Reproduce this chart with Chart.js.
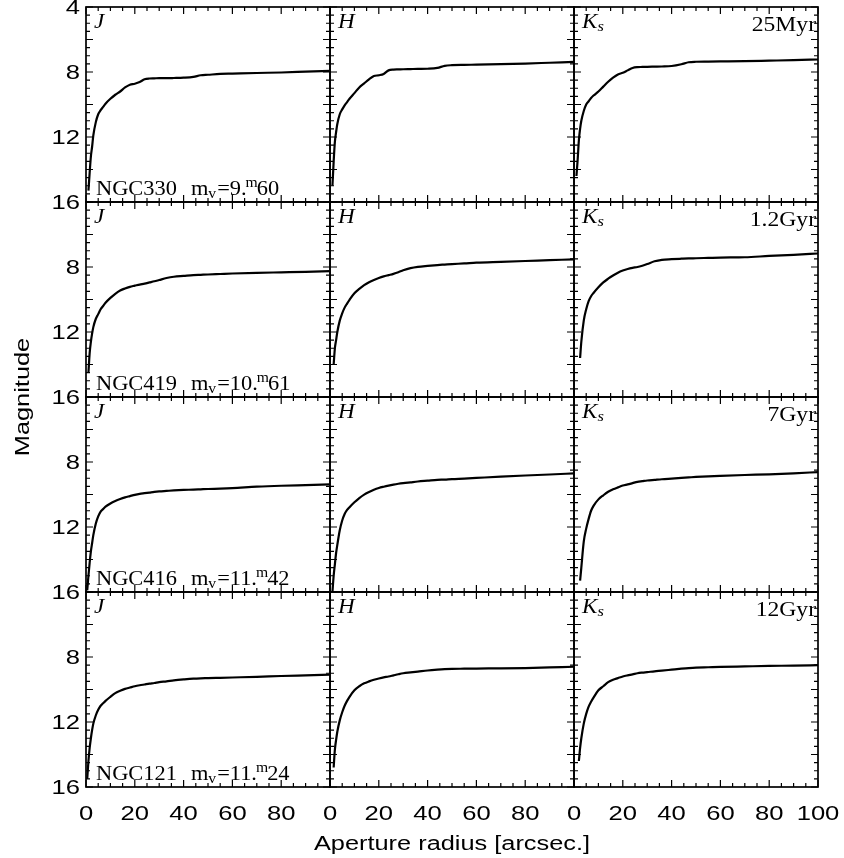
<!DOCTYPE html>
<html>
<head>
<meta charset="utf-8">
<script src="https://cdn.jsdelivr.net/npm/chart.js@4"></script>
<style>
  body { margin: 0; background: #fff; }
  #wrap { position: relative; width: 844px; height: 858px; }
  #wrap canvas { position: absolute; left: 0; top: 0; }
</style>
</head>
<body>
<div id="wrap"></div>
<script>
// aperture radii [arcsec] shared by every curve
const radius = [0.5, 1, 1.5, 2, 2.5, 3, 4, 5, 6, 7, 8, 10, 12, 14, 16, 18, 20, 22, 24, 26, 28, 30, 33, 36, 40, 44, 47, 50, 55, 60, 70, 80, 90, 100];

// growth curves (magnitude inside aperture), null = no data at that radius
const ngc330J = [null, 15.3, 14.2, 13.2, 12.6, 11.9, 11.1, 10.6, 10.35, 10.15, 9.95, 9.65, 9.4, 9.2, 8.95, 8.78, 8.72, 8.62, 8.45, 8.4, 8.39, 8.38, 8.38, 8.37, 8.35, 8.3, 8.2, 8.17, 8.12, 8.1, 8.06, 8.03, 7.98, 7.93];
const ngc330H = [null, 15.0, 13.5, 12.3, 11.7, 11.2, 10.6, 10.3, 10.05, 9.85, 9.65, 9.3, 8.95, 8.7, 8.45, 8.25, 8.2, 8.12, 7.9, 7.85, 7.84, 7.83, 7.82, 7.81, 7.8, 7.75, 7.62, 7.58, 7.56, 7.55, 7.52, 7.48, 7.43, 7.38];
const ngc330K = [null, 14.4, 13.4, 12.2, 11.5, 11.0, 10.4, 10.0, 9.8, 9.6, 9.45, 9.2, 8.9, 8.6, 8.35, 8.15, 8.05, 7.9, 7.75, 7.7, 7.69, 7.68, 7.67, 7.66, 7.63, 7.52, 7.4, 7.37, 7.36, 7.35, 7.33, 7.3, 7.27, 7.23];

const ngc419J = [null, 14.5, 13.3, 12.6, 12.1, 11.7, 11.2, 10.9, 10.6, 10.4, 10.2, 9.9, 9.65, 9.45, 9.32, 9.22, 9.15, 9.08, 9.02, 8.95, 8.88, 8.8, 8.68, 8.6, 8.55, 8.5, 8.48, 8.46, 8.43, 8.4, 8.36, 8.33, 8.3, 8.25];
const ngc419H = [null, null, 14.0, 13.0, 12.5, 12.0, 11.3, 10.85, 10.5, 10.25, 10.02, 9.62, 9.35, 9.12, 8.94, 8.8, 8.68, 8.58, 8.5, 8.42, 8.32, 8.2, 8.07, 7.99, 7.93, 7.88, 7.85, 7.82, 7.78, 7.73, 7.68, 7.63, 7.58, 7.53];
const ngc419K = [null, null, null, null, 13.6, 12.6, 11.3, 10.6, 10.1, 9.8, 9.6, 9.25, 8.95, 8.72, 8.52, 8.35, 8.22, 8.12, 8.05, 8.0, 7.92, 7.82, 7.65, 7.56, 7.52, 7.49, 7.47, 7.46, 7.44, 7.42, 7.4, 7.32, 7.25, 7.17];

const ngc416J = [15.9, 15.0, 14.2, 13.5, 13.0, 12.5, 11.8, 11.35, 11.05, 10.9, 10.75, 10.55, 10.4, 10.28, 10.18, 10.1, 10.02, 9.96, 9.92, 9.88, 9.84, 9.81, 9.78, 9.75, 9.72, 9.7, 9.68, 9.66, 9.64, 9.61, 9.52, 9.46, 9.42, 9.38];
const ngc416H = [null, 16.0, 15.0, 14.3, 13.6, 13.1, 12.2, 11.6, 11.2, 10.95, 10.78, 10.48, 10.22, 10.01, 9.85, 9.71, 9.6, 9.52, 9.45, 9.39, 9.34, 9.3, 9.25, 9.2, 9.15, 9.1, 9.08, 9.05, 9.02, 8.98, 8.9, 8.83, 8.77, 8.7];
const ngc416K = [null, null, null, null, 15.3, 14.5, 12.9, 12.1, 11.5, 11.0, 10.7, 10.3, 10.05, 9.83, 9.68, 9.56, 9.45, 9.38, 9.3, 9.22, 9.18, 9.14, 9.1, 9.06, 9.02, 8.98, 8.95, 8.92, 8.88, 8.85, 8.8, 8.76, 8.7, 8.62];

const ngc121J = [15.5, 14.4, 13.6, 13.0, 12.5, 12.1, 11.6, 11.25, 11.0, 10.85, 10.7, 10.45, 10.22, 10.08, 9.96, 9.88, 9.8, 9.74, 9.69, 9.64, 9.6, 9.55, 9.5, 9.44, 9.38, 9.33, 9.31, 9.3, 9.28, 9.26, 9.22, 9.17, 9.13, 9.09];
const ngc121H = [null, null, 14.8, 13.7, 13.1, 12.6, 11.9, 11.4, 11.0, 10.7, 10.45, 10.05, 9.8, 9.62, 9.5, 9.4, 9.32, 9.25, 9.2, 9.13, 9.06, 9.0, 8.95, 8.9, 8.83, 8.78, 8.75, 8.73, 8.72, 8.71, 8.7, 8.68, 8.64, 8.6];
const ngc121K = [null, null, null, 14.4, 13.6, 13.0, 12.1, 11.5, 11.05, 10.75, 10.5, 10.05, 9.8, 9.55, 9.4, 9.3, 9.2, 9.13, 9.07, 9.0, 8.96, 8.93, 8.88, 8.84, 8.78, 8.72, 8.68, 8.65, 8.63, 8.61, 8.58, 8.55, 8.53, 8.5];

// labels
const bands = ['J', 'H', 'K'];
const clusters = ['NGC330', 'NGC419', 'NGC416', 'NGC121'];
const mvWhole = ['9', '10', '11', '11'];
const mvDecimals = ['60', '61', '42', '24'];
const ages = ['25Myr', '1.2Gyr', '7Gyr', '12Gyr'];
const yTickLabels = [4, 8, 12, 16];
const xTickLabels = [0, 20, 40, 60, 80, 100];

const curves = [
    [ngc330J, ngc330H, ngc330K],
    [ngc419J, ngc419H, ngc419K],
    [ngc416J, ngc416H, ngc416K],
    [ngc121J, ngc121H, ngc121K]
];

// panel grid geometry
const W = 844, H = 858;
const gridLeft = 86, gridTop = 7, panelW = 244, panelH = 195;

const sansFont = '"Liberation Sans", Arial, Helvetica, sans-serif';
const serifFont = '"Liberation Serif", "Times New Roman", serif';

// text drawn wider than the font (the original uses broad vector fonts)
function wideText(ctx, str, x, y, sx, align) {
    const w = ctx.measureText(str).width * sx;
    let x0 = x;
    if (align === 'right') x0 = x - w;
    else if (align === 'center') x0 = x - w / 2;
    ctx.save();
    ctx.translate(x0, y);
    ctx.scale(sx, 1);
    ctx.textAlign = 'left';
    ctx.fillText(str, 0, 0);
    ctx.restore();
    return w;
}

const panelFrame = {
    id: 'panelFrame',
    afterDatasetsDraw(chart, args, opts) {
        const ctx = chart.ctx;
        const a = chart.chartArea;
        const xs = chart.scales.x, ys = chart.scales.y;
        ctx.save();
        ctx.strokeStyle = '#000';
        ctx.fillStyle = '#000';

        // inward ticks on all four sides
        ctx.lineWidth = 1.2;
        ctx.beginPath();
        for (let v = 0; v <= 100; v += 5) {
            const px = xs.getPixelForValue(v);
            const len = v % 20 === 0 ? 7 : 4;
            ctx.moveTo(px, a.bottom); ctx.lineTo(px, a.bottom - len);
            ctx.moveTo(px, a.top); ctx.lineTo(px, a.top + len);
        }
        for (let v = 4; v <= 16; v += 0.5) {
            const py = ys.getPixelForValue(v);
            const len = v % 2 === 0 ? 7 : 4;
            ctx.moveTo(a.left, py); ctx.lineTo(a.left + len, py);
            ctx.moveTo(a.right, py); ctx.lineTo(a.right - len, py);
        }
        ctx.stroke();

        ctx.lineWidth = 1.7;
        ctx.strokeRect(a.left, a.top, a.right - a.left, a.bottom - a.top);

        // tick labels only on the outer panels
        ctx.font = '20px ' + sansFont;
        if (opts.col === 0) {
            ctx.textBaseline = 'middle';
            yTickLabels.forEach(v => {
                if (v === 4 && opts.row !== 0) return;
                wideText(ctx, String(v), a.left - 6, ys.getPixelForValue(v) + 1, 1.28, 'right');
            });
        }
        if (opts.row === 3) {
            ctx.textBaseline = 'alphabetic';
            xTickLabels.forEach(v => {
                if (v === 100 && opts.col !== 2) return;
                wideText(ctx, String(v), xs.getPixelForValue(v), a.bottom + 33, 1.28, 'center');
            });
        }

        // band name
        ctx.textBaseline = 'alphabetic';
        ctx.font = 'italic 21px ' + serifFont;
        const bx = a.left + 8, by = a.top + 21;
        const bw = wideText(ctx, opts.band, bx, by, 1.1, 'left');
        if (opts.band === 'K') {
            ctx.font = 'italic 15px ' + serifFont;
            wideText(ctx, 's', bx + bw, by + 3, 1.1, 'left');
        }

        // age, right column
        if (opts.col === 2) {
            ctx.font = '20px ' + serifFont;
            wideText(ctx, opts.age, a.right - 2, a.top + 24, 1.18, 'right');
        }

        // cluster name and V magnitude, left column
        if (opts.col === 0) {
            let x = a.left + 10;
            const y = a.bottom - 7;
            const big = '20px ' + serifFont, small = '14px ' + serifFont;
            const sx = 1.12;
            ctx.font = big;
            x += wideText(ctx, opts.cluster, x, y, sx, 'left') + 14;
            x += wideText(ctx, 'm', x, y, sx, 'left');
            ctx.font = small;
            x += wideText(ctx, 'v', x, y + 3, sx, 'left') + 1;
            ctx.font = big;
            x += wideText(ctx, '=' + opts.mvWhole + '.', x, y, sx, 'left');
            ctx.font = small;
            x += wideText(ctx, 'm', x - 1, y - 8, sx, 'left') - 2;
            ctx.font = big;
            wideText(ctx, opts.mvDecimals, x, y, sx, 'left');
        }

        // shared axis titles, drawn once
        if (opts.titles) {
            ctx.font = '19.5px ' + sansFont;
            ctx.textBaseline = 'alphabetic';
            wideText(ctx, 'Aperture radius [arcsec.]', (gridLeft + gridLeft + 3 * panelW) / 2, 850, 1.3, 'center');
            ctx.save();
            ctx.translate(29, gridTop + 2 * panelH);
            ctx.rotate(-Math.PI / 2);
            wideText(ctx, 'Magnitude', 0, 0, 1.3, 'center');
            ctx.restore();
        }
        ctx.restore();
    }
};

const wrap = document.getElementById('wrap');

for (let row = 0; row < 4; row++) {
    for (let col = 0; col < 3; col++) {
        const mags = curves[row][col];
        const points = [];
        radius.forEach((r, i) => {
            if (mags[i] !== null) points.push({ x: r, y: mags[i] });
        });

        const left = gridLeft + col * panelW;
        const top = gridTop + row * panelH;

        const canvas = document.createElement('canvas');
        canvas.width = W;
        canvas.height = H;
        canvas.style.width = W + 'px';
        canvas.style.height = H + 'px';
        wrap.appendChild(canvas);

        new Chart(canvas, {
            type: 'line',
            data: {
                datasets: [{
                    data: points,
                    borderColor: '#000',
                    borderWidth: 2.2,
                    pointRadius: 0,
                    fill: false,
                    cubicInterpolationMode: 'monotone',
                    borderJoinStyle: 'round'
                }]
            },
            options: {
                responsive: false,
                animation: false,
                devicePixelRatio: 1,
                layout: {
                    padding: { left: left, top: top, right: W - left - panelW, bottom: H - top - panelH }
                },
                scales: {
                    x: { type: 'linear', min: 0, max: 100, display: false },
                    y: { type: 'linear', min: 4, max: 16, reverse: true, display: false }
                },
                plugins: {
                    legend: { display: false },
                    tooltip: { enabled: false },
                    panelFrame: {
                        row: row,
                        col: col,
                        band: bands[col],
                        age: ages[row],
                        cluster: clusters[row],
                        mvWhole: mvWhole[row],
                        mvDecimals: mvDecimals[row],
                        titles: row === 3 && col === 2
                    }
                }
            },
            plugins: [panelFrame]
        });
    }
}
</script>
</body>
</html>
